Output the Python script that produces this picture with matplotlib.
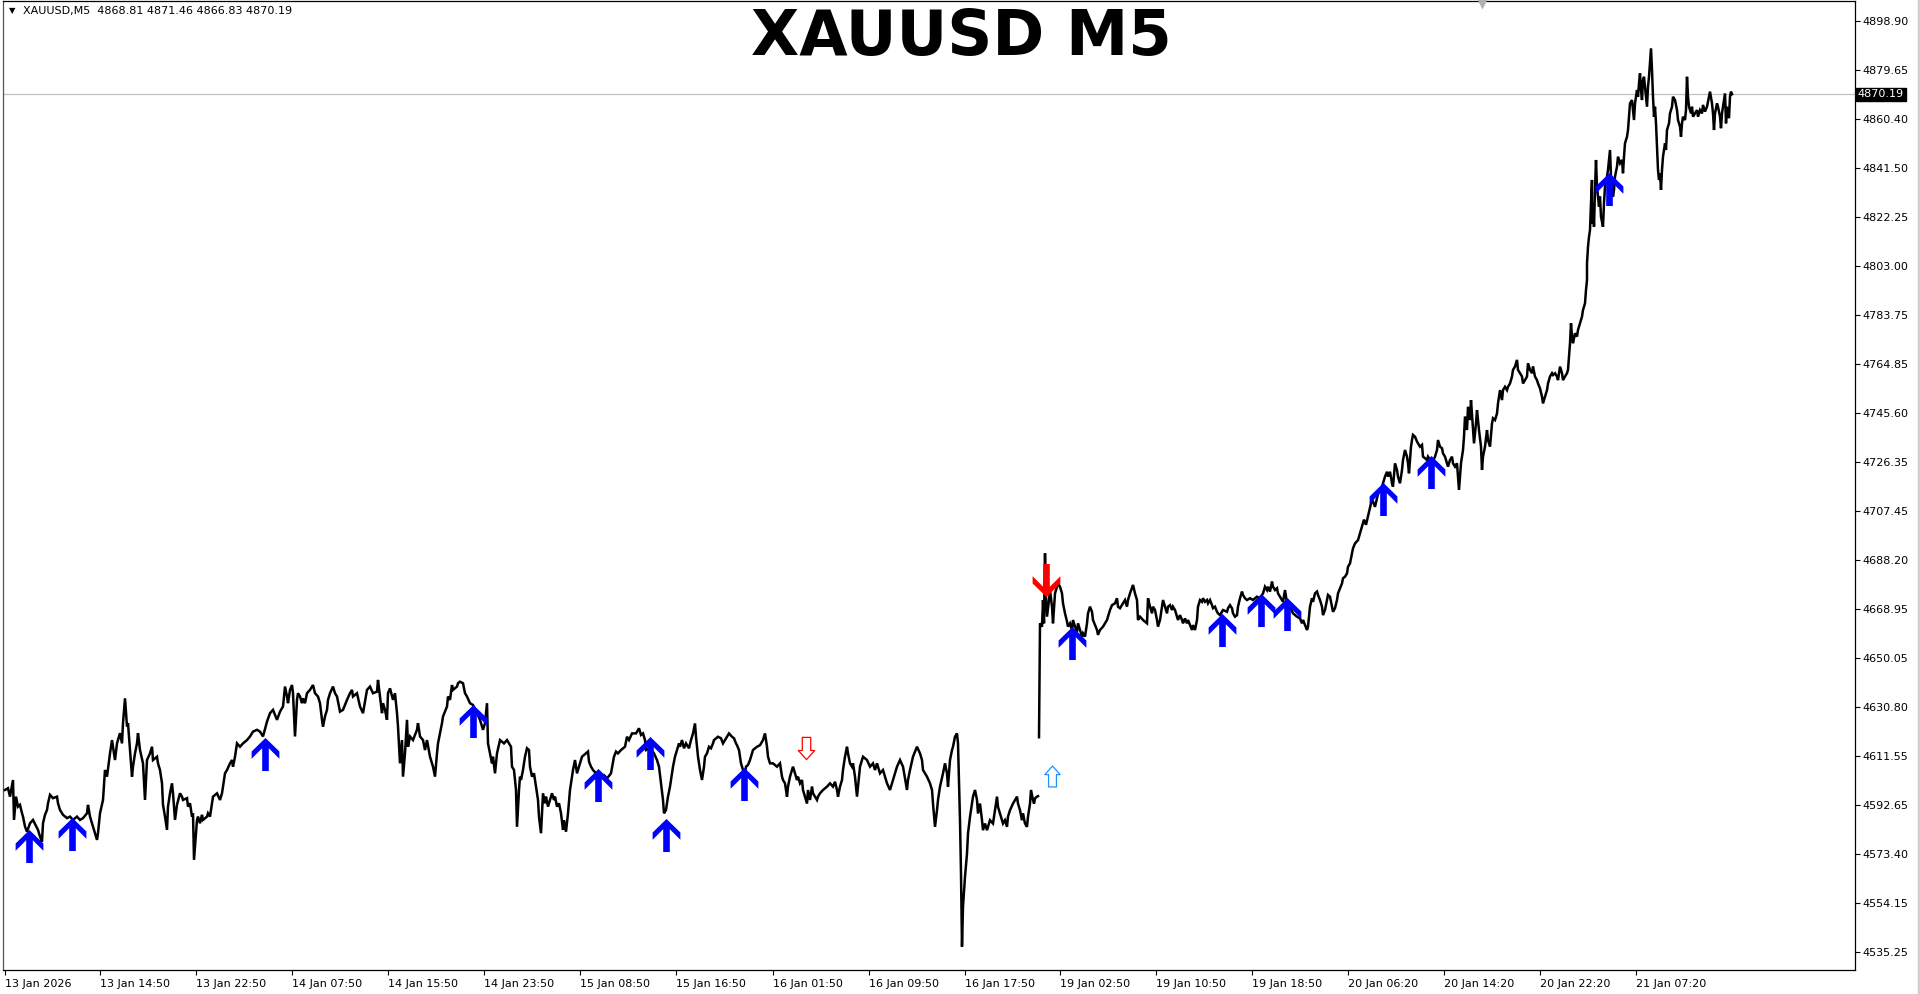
import numpy as np
import matplotlib
matplotlib.use('Agg')
import matplotlib.pyplot as plt
from matplotlib.path import Path
from matplotlib.lines import Line2D

# (bar, price) pairs, one bar per pixel
tue_13jan = [
    (5, 4598.4), (8, 4599.1), (10, 4595.8), (13, 4602.3), (14, 4586.7), (16, 4595.8), (18, 4591.9),
    (20, 4592.6), (22, 4589.3), (23, 4588.0), (25, 4584.1), (27, 4582.1), (30, 4585.4), (33, 4586.7),
    (38, 4582.8), (40, 4580.2), (42, 4578.2), (43, 4585.4), (45, 4588.7), (47, 4590.6), (48, 4593.2),
    (50, 4596.5), (53, 4595.2), (57, 4595.8), (58, 4593.2), (60, 4590.6), (63, 4588.7), (67, 4587.4),
    (70, 4588.0), (73, 4586.7), (77, 4588.0), (80, 4586.7), (83, 4587.4), (87, 4589.3), (88, 4592.6),
    (90, 4588.0), (93, 4584.1), (97, 4578.9), (98, 4581.5), (100, 4589.3), (103, 4594.5), (105, 4606.2),
    (107, 4603.6), (110, 4612.7), (112, 4617.9), (113, 4615.3), (115, 4610.1), (117, 4616.6), (120, 4620.6),
    (122, 4616.6), (123, 4624.5), (125, 4634.2), (127, 4623.2), (128, 4624.5), (130, 4614.0), (132, 4603.6),
    (133, 4607.5), (135, 4612.7), (137, 4616.6), (138, 4620.6), (140, 4614.0), (143, 4608.8), (145, 4594.5),
    (147, 4610.1), (150, 4612.7), (152, 4615.3), (153, 4610.1), (157, 4611.4), (158, 4608.8), (160, 4606.2),
    (162, 4601.0), (163, 4592.6), (165, 4588.0), (167, 4582.8), (168, 4591.9), (170, 4597.1), (172, 4601.0),
    (173, 4597.1), (175, 4586.7), (177, 4592.6), (180, 4597.1), (182, 4595.8), (183, 4594.5), (187, 4595.2),
    (188, 4591.9), (190, 4593.2), (192, 4588.0), (193, 4589.3), (194, 4571.1), (197, 4586.7), (198, 4588.0),
    (200, 4585.4), (202, 4588.7), (203, 4586.7), (207, 4588.0), (208, 4589.3), (210, 4588.0),
]
wed_14jan = [
    (212, 4593.2), (213, 4595.8), (217, 4597.1), (220, 4594.5), (222, 4597.1), (223, 4599.7), (225, 4604.9),
    (227, 4606.2), (230, 4608.8), (232, 4610.1), (233, 4607.5), (235, 4611.4), (237, 4616.6), (240, 4615.3),
    (243, 4616.6), (247, 4617.9), (250, 4619.3), (253, 4621.2), (257, 4621.9), (260, 4621.2), (263, 4619.3),
    (267, 4625.1), (270, 4628.4), (273, 4629.7), (277, 4625.8), (280, 4629.0), (283, 4631.0), (285, 4638.8),
    (287, 4634.9), (288, 4632.3), (290, 4637.5), (292, 4639.4), (293, 4636.2), (295, 4619.3), (297, 4633.6),
    (298, 4636.2), (300, 4634.9), (302, 4632.3), (303, 4634.2), (305, 4632.3), (307, 4636.2), (310, 4637.5),
    (313, 4639.4), (315, 4636.2), (318, 4634.9), (320, 4632.3), (322, 4625.8), (323, 4623.2), (325, 4627.1),
    (327, 4629.7), (328, 4633.6), (330, 4636.2), (333, 4638.8), (335, 4636.2), (337, 4634.9), (340, 4629.0),
    (343, 4629.7), (347, 4633.6), (350, 4636.2), (352, 4637.5), (353, 4634.9), (357, 4636.2), (360, 4631.0),
    (363, 4628.4), (367, 4637.5), (370, 4638.8), (373, 4636.2), (377, 4636.8), (378, 4641.4), (380, 4634.9),
    (382, 4628.4), (383, 4632.3), (385, 4629.7), (387, 4625.8), (388, 4636.2), (390, 4638.1), (393, 4633.6),
    (395, 4636.2), (397, 4628.4), (398, 4623.2), (400, 4608.8), (402, 4617.9), (403, 4603.6), (405, 4612.7),
    (407, 4625.8), (408, 4615.3), (410, 4619.3), (413, 4617.9), (417, 4621.9), (418, 4624.5), (420, 4619.3),
    (423, 4617.9), (425, 4614.0), (427, 4617.9), (430, 4611.4), (433, 4607.5), (435, 4603.6), (437, 4612.7),
    (438, 4616.6), (440, 4620.6), (442, 4624.5), (443, 4627.1), (447, 4631.0), (448, 4634.9), (450, 4633.6),
    (452, 4639.4), (453, 4637.5), (457, 4638.8), (458, 4640.1), (460, 4640.7), (463, 4640.1), (465, 4636.2),
    (467, 4634.9), (470, 4632.3), (473, 4631.6), (477, 4628.4), (480, 4625.8), (483, 4621.9), (485, 4624.5),
    (487, 4632.3), (488, 4616.6), (490, 4612.7), (492, 4608.8), (493, 4611.4), (495, 4604.9), (497, 4612.7),
]
thu_15jan = [
    (500, 4617.9), (504, 4616.6), (507, 4617.9), (511, 4615.3), (512, 4607.5), (514, 4606.2), (516, 4598.4),
    (517, 4584.0), (519, 4598.4), (520, 4603.6), (521, 4602.3), (523, 4606.2), (525, 4611.4), (527, 4614.7),
    (529, 4614.0), (530, 4607.5), (532, 4603.6), (534, 4604.9), (536, 4599.7), (538, 4594.5), (539, 4587.9),
    (541, 4581.5), (543, 4597.1), (545, 4593.2), (546, 4595.8), (548, 4591.9), (550, 4594.5), (552, 4597.1),
    (554, 4594.5), (555, 4595.8), (557, 4591.9), (559, 4593.2), (561, 4589.3), (563, 4582.8), (564, 4586.6),
    (566, 4582.1), (568, 4589.3), (570, 4598.4), (571, 4601.0), (573, 4606.2), (575, 4610.1), (577, 4604.9),
    (579, 4607.5), (580, 4608.8), (582, 4611.4), (586, 4612.7), (588, 4613.4), (589, 4609.5), (591, 4607.5),
    (593, 4606.2), (596, 4604.9), (600, 4603.6), (604, 4604.2), (607, 4602.9), (611, 4604.9), (614, 4611.4),
    (616, 4613.4), (618, 4612.7), (621, 4614.0), (625, 4615.3), (627, 4619.2), (629, 4617.9), (632, 4620.5),
    (636, 4620.5), (639, 4622.5), (641, 4619.9), (643, 4620.5), (645, 4617.9), (646, 4614.0), (650, 4614.7),
    (654, 4612.7), (657, 4610.1), (659, 4607.5), (661, 4601.0), (663, 4594.5), (664, 4589.3), (666, 4590.6),
    (668, 4595.8), (670, 4599.7), (671, 4602.3), (673, 4607.5), (675, 4611.4), (677, 4614.0), (679, 4616.6),
    (680, 4615.3), (682, 4617.9), (684, 4614.7), (686, 4616.6), (689, 4614.7), (691, 4617.9), (693, 4620.5),
    (695, 4624.4), (696, 4619.2), (698, 4611.4), (700, 4606.2), (702, 4602.3), (704, 4607.5), (705, 4611.4),
    (707, 4612.7), (709, 4615.3), (711, 4614.7), (713, 4616.6), (714, 4617.9), (718, 4619.2), (721, 4618.6),
    (723, 4616.6), (725, 4617.9), (729, 4620.5), (732, 4619.2), (734, 4618.6), (736, 4616.6), (737, 4615.9),
    (739, 4614.0), (741, 4608.8), (743, 4606.2), (745, 4604.9), (746, 4607.5), (748, 4608.2), (750, 4610.1),
]
fri_16jan = [
    (753, 4614.0), (757, 4615.3), (760, 4615.9), (763, 4617.9), (765, 4620.5), (767, 4615.3), (768, 4611.4),
    (770, 4608.8), (773, 4608.8), (777, 4607.5), (780, 4608.8), (782, 4603.6), (783, 4602.3), (785, 4601.0),
    (787, 4595.8), (788, 4599.7), (790, 4603.6), (793, 4607.5), (795, 4604.9), (797, 4602.3), (798, 4603.6),
    (800, 4601.0), (802, 4602.3), (803, 4598.4), (805, 4595.8), (807, 4593.1), (808, 4598.4), (810, 4594.5),
    (812, 4599.7), (813, 4597.1), (817, 4594.5), (818, 4595.8), (820, 4597.1), (823, 4598.4), (827, 4599.7),
    (830, 4601.0), (833, 4599.7), (835, 4601.6), (837, 4598.4), (838, 4595.8), (840, 4599.7), (842, 4602.3),
    (843, 4606.2), (845, 4611.4), (847, 4615.3), (848, 4612.7), (850, 4608.8), (852, 4607.5), (853, 4608.8),
    (855, 4603.6), (857, 4595.8), (858, 4599.7), (860, 4607.5), (863, 4611.4), (867, 4610.1), (870, 4607.5),
    (873, 4608.8), (875, 4606.2), (877, 4608.8), (880, 4604.9), (883, 4606.2), (887, 4601.0), (890, 4598.4),
    (893, 4602.3), (897, 4607.5), (900, 4610.1), (903, 4607.5), (907, 4598.4), (908, 4602.3), (910, 4606.2),
    (913, 4611.4), (917, 4615.3), (920, 4612.7), (922, 4610.1), (923, 4606.2), (927, 4603.6), (930, 4601.0),
    (932, 4598.4), (933, 4593.1), (935, 4584.0), (937, 4590.5), (938, 4594.5), (940, 4599.7), (943, 4604.9),
    (945, 4608.8), (947, 4604.9), (948, 4599.7), (950, 4610.1), (952, 4614.0), (953, 4615.3), (955, 4619.2),
    (957, 4620.5), (958, 4616.6), (959, 4602.3), (960, 4586.6), (961, 4565.8), (962, 4537.2), (963, 4552.8),
    (965, 4564.5), (967, 4573.6), (968, 4581.4), (970, 4587.9), (972, 4593.1), (973, 4595.8), (975, 4598.4),
    (977, 4594.5), (978, 4589.2), (980, 4593.1), (982, 4586.6), (983, 4582.7), (985, 4585.3), (987, 4582.7),
    (990, 4586.6), (993, 4585.3), (997, 4595.8), (998, 4591.8), (1000, 4589.2), (1002, 4586.6), (1003, 4585.3),
    (1005, 4586.6), (1007, 4584.0), (1008, 4588.0), (1010, 4590.5), (1013, 4593.1), (1017, 4595.8),
    (1018, 4593.1), (1020, 4590.5), (1022, 4586.6), (1023, 4589.2), (1025, 4585.3), (1027, 4584.0),
    (1028, 4588.0), (1030, 4593.1), (1031, 4598.4), (1033, 4594.5), (1034, 4593.1), (1035, 4595.1),
    (1037, 4595.8), (1038, 4596.0),
]
mon_19jan = [
    (1039, 4619.0), (1040, 4663.5), (1042, 4662.2), (1043, 4672.6), (1044, 4663.5), (1045, 4690.8),
    (1046, 4673.9), (1047, 4666.1), (1049, 4672.6), (1050, 4676.5), (1052, 4670.0), (1053, 4663.5),
    (1055, 4675.2), (1057, 4677.8), (1058, 4679.1), (1060, 4677.8), (1062, 4675.2), (1063, 4671.3),
    (1065, 4667.4), (1067, 4664.2), (1068, 4662.2), (1070, 4663.5), (1072, 4660.9), (1073, 4664.8),
    (1075, 4662.2), (1077, 4660.2), (1078, 4663.5), (1080, 4660.9), (1082, 4658.3), (1083, 4659.6),
    (1085, 4658.3), (1087, 4663.5), (1088, 4667.4), (1090, 4670.0), (1092, 4668.0), (1093, 4664.8),
    (1097, 4660.9), (1098, 4659.0), (1100, 4660.9), (1103, 4662.2), (1107, 4664.8), (1108, 4666.1),
    (1110, 4668.7), (1112, 4670.6), (1115, 4671.3), (1117, 4673.3), (1118, 4670.0), (1120, 4669.4),
    (1123, 4671.3), (1125, 4672.6), (1127, 4670.0), (1128, 4672.6), (1130, 4675.2), (1133, 4678.5),
    (1135, 4675.2), (1137, 4672.6), (1138, 4664.8), (1140, 4666.1), (1143, 4664.8), (1147, 4663.5),
    (1148, 4673.3), (1150, 4670.0), (1152, 4667.4), (1153, 4670.0), (1155, 4668.7), (1157, 4664.8),
    (1158, 4662.2), (1160, 4664.8), (1162, 4670.0), (1163, 4672.6), (1165, 4670.0), (1167, 4667.4),
    (1168, 4670.0), (1170, 4670.6), (1172, 4668.7), (1173, 4670.0), (1175, 4668.7), (1177, 4666.1),
    (1178, 4664.8), (1180, 4666.7), (1182, 4664.8), (1183, 4663.5), (1185, 4665.4), (1187, 4663.5),
    (1188, 4664.8), (1190, 4662.8), (1192, 4660.9), (1193, 4662.8), (1195, 4660.9), (1197, 4664.8),
    (1198, 4670.0), (1200, 4672.6), (1202, 4671.9), (1203, 4673.3), (1205, 4671.9), (1207, 4672.6),
    (1208, 4671.3), (1210, 4672.6), (1212, 4670.6), (1213, 4669.4), (1215, 4670.0), (1217, 4668.0),
    (1218, 4667.4), (1220, 4666.7), (1222, 4668.0), (1223, 4668.7), (1227, 4668.0), (1228, 4669.4),
    (1230, 4670.6), (1232, 4669.4), (1233, 4667.4), (1235, 4666.1), (1237, 4666.7), (1238, 4670.0),
    (1240, 4673.3), (1242, 4675.9), (1243, 4674.6), (1245, 4673.3), (1247, 4672.6), (1250, 4673.3),
    (1253, 4672.6), (1257, 4673.9), (1260, 4673.3), (1263, 4675.2), (1265, 4677.8), (1267, 4676.5),
    (1268, 4677.8), (1270, 4675.9), (1272, 4679.8), (1273, 4677.8), (1275, 4676.5), (1277, 4677.2),
    (1278, 4675.2), (1280, 4673.9), (1282, 4672.6), (1283, 4671.9), (1285, 4676.5), (1287, 4671.3),
    (1290, 4670.0), (1293, 4667.4), (1297, 4666.1), (1300, 4665.4), (1302, 4663.5), (1303, 4664.8),
    (1305, 4662.8), (1307, 4660.9), (1308, 4662.2), (1310, 4670.0), (1312, 4673.3), (1313, 4671.9),
    (1315, 4675.2), (1317, 4675.9), (1318, 4674.6), (1320, 4672.6), (1322, 4670.0), (1323, 4666.7),
    (1325, 4668.7), (1327, 4672.6), (1328, 4674.6), (1330, 4673.9), (1332, 4670.0), (1333, 4668.0),
    (1335, 4669.4), (1337, 4672.6), (1338, 4675.2), (1340, 4677.2), (1342, 4679.1), (1343, 4681.1),
    (1345, 4681.7), (1347, 4683.0), (1348, 4685.6), (1350, 4686.9), (1352, 4690.8), (1353, 4692.8),
    (1355, 4694.7), (1358, 4696.0),
]
tue_20jan = [
    (1361, 4700.0), (1364, 4704.0), (1366, 4702.0), (1369, 4707.0), (1372, 4712.0), (1375, 4709.0),
    (1378, 4714.0), (1380, 4715.6), (1382, 4716.9), (1385, 4720.8), (1387, 4722.7), (1388, 4720.8),
    (1390, 4722.7), (1392, 4718.2), (1393, 4716.9), (1395, 4726.0), (1397, 4723.4), (1398, 4720.8),
    (1400, 4718.2), (1402, 4723.4), (1403, 4727.3), (1405, 4731.2), (1407, 4728.6), (1408, 4726.0),
    (1409, 4722.1), (1411, 4732.5), (1412, 4735.1), (1413, 4737.1), (1415, 4736.4), (1417, 4734.5),
    (1418, 4733.8), (1420, 4732.5), (1422, 4733.2), (1423, 4728.6), (1425, 4728.0), (1427, 4727.3),
    (1428, 4728.6), (1432, 4726.0), (1435, 4728.6), (1437, 4731.2), (1438, 4735.1), (1440, 4732.5),
    (1442, 4731.9), (1443, 4729.9), (1445, 4728.6), (1447, 4726.0), (1448, 4724.7), (1450, 4727.3),
    (1452, 4728.6), (1453, 4726.0), (1455, 4724.7), (1457, 4726.0), (1458, 4720.8), (1459, 4715.6),
    (1461, 4726.0), (1463, 4731.2), (1464, 4736.4), (1465, 4744.3), (1467, 4739.0), (1468, 4748.1),
    (1470, 4742.9), (1471, 4750.7), (1473, 4739.0), (1474, 4733.8), (1476, 4741.6), (1477, 4746.8),
    (1479, 4739.0), (1481, 4732.5), (1482, 4723.4), (1483, 4728.6), (1485, 4732.5), (1487, 4739.0),
    (1488, 4735.1), (1490, 4732.5), (1492, 4741.6), (1493, 4743.6), (1495, 4742.9), (1497, 4745.5),
    (1498, 4749.4), (1500, 4754.6), (1502, 4750.7), (1503, 4754.6), (1505, 4755.9), (1507, 4754.6),
    (1508, 4755.9), (1510, 4757.2), (1512, 4759.9), (1513, 4762.5), (1515, 4763.8), (1517, 4766.4),
    (1518, 4762.5), (1520, 4761.2), (1522, 4759.9), (1523, 4757.2), (1525, 4758.5), (1527, 4759.9),
    (1528, 4765.1), (1530, 4762.5), (1532, 4761.2), (1533, 4763.8), (1535, 4759.9), (1537, 4758.5),
    (1538, 4757.2), (1540, 4755.3), (1542, 4752.0), (1543, 4749.4), (1545, 4752.0), (1547, 4754.6),
    (1548, 4757.2), (1550, 4759.9), (1552, 4761.2), (1553, 4760.5), (1555, 4761.2), (1557, 4759.9),
    (1558, 4758.5), (1560, 4763.8), (1562, 4761.2), (1563, 4758.5), (1565, 4759.9), (1567, 4761.2),
    (1568, 4762.5), (1569, 4767.7), (1570, 4772.9), (1571, 4780.7), (1572, 4775.5), (1573, 4772.9),
    (1575, 4776.8), (1577, 4775.5), (1578, 4778.1), (1580, 4780.7), (1582, 4783.3), (1583, 4785.9),
    (1585, 4788.5), (1586, 4793.7), (1587, 4797.6), (1587, 4804.1), (1588, 4810.6), (1589, 4814.5),
    (1590, 4817.1), (1591, 4827.6), (1592, 4836.7), (1592, 4819.7), (1593, 4827.6), (1594, 4818.4),
    (1595, 4832.8), (1596, 4844.5), (1597, 4834.1), (1599, 4826.3), (1600, 4830.2), (1601, 4822.3),
    (1603, 4818.4), (1604, 4827.6), (1605, 4834.1), (1607, 4838.0), (1608, 4840.6), (1610, 4848.4),
    (1611, 4838.0), (1613, 4830.2), (1614, 4832.8), (1615, 4838.0), (1617, 4841.9), (1618, 4845.8),
    (1620, 4843.2), (1622, 4844.5), (1623, 4839.3), (1624, 4845.8), (1625, 4851.0), (1627, 4853.6),
    (1628, 4856.2), (1629, 4861.4),
]
wed_21jan = [
    (1630, 4866.6), (1632, 4867.9), (1633, 4864.0), (1634, 4860.1), (1635, 4866.6), (1637, 4871.8),
    (1638, 4869.2), (1639, 4874.4), (1640, 4878.3), (1641, 4871.8), (1642, 4867.9), (1643, 4875.7),
    (1644, 4877.0), (1645, 4873.1), (1646, 4869.2), (1647, 4865.3), (1648, 4873.1), (1649, 4877.0),
    (1650, 4882.3), (1651, 4888.1), (1652, 4879.6), (1653, 4869.2), (1654, 4861.4), (1655, 4865.3),
    (1656, 4858.8), (1657, 4849.7), (1658, 4840.6), (1659, 4836.7), (1660, 4839.3), (1661, 4832.8),
    (1662, 4840.6), (1663, 4845.8), (1665, 4851.0), (1666, 4848.4), (1667, 4856.2), (1669, 4858.8),
    (1670, 4862.7), (1672, 4865.3), (1673, 4869.2), (1675, 4867.9), (1677, 4864.0), (1678, 4860.1),
    (1680, 4857.5), (1681, 4853.6), (1682, 4858.8), (1683, 4861.4), (1685, 4860.1), (1686, 4864.0),
    (1687, 4877.0), (1688, 4869.2), (1689, 4865.3), (1691, 4862.7), (1692, 4865.3), (1693, 4861.4),
    (1695, 4862.7), (1697, 4864.0), (1698, 4861.4), (1700, 4864.0), (1702, 4862.7), (1703, 4866.0),
    (1705, 4863.4), (1707, 4865.3), (1708, 4867.3), (1710, 4871.2), (1712, 4866.6), (1713, 4862.7),
    (1714, 4856.2), (1715, 4862.7), (1717, 4866.6), (1718, 4865.3), (1720, 4861.4), (1721, 4856.9),
    (1722, 4862.7), (1723, 4865.3), (1725, 4870.5), (1726, 4858.8), (1727, 4865.3), (1729, 4860.8),
    (1730, 4869.2), (1731, 4871.2), (1732, 4870.19),
]

# signal arrows (bar, price level)
buy_bars = [29, 72, 265, 473, 598, 650, 666, 744, 1072, 1222, 1261, 1287, 1383, 1431, 1609]
buy_levels = [4576.5, 4581.2, 4612.4, 4625.3, 4600.3, 4612.8, 4580.8, 4600.8,
              4656.0, 4660.7, 4668.9, 4667.0, 4712.1, 4722.6, 4833.2]
sell_bars = [1046]
sell_levels = [4680.5]
hollow_sell_bars = [806]
hollow_sell_levels = [4614.7]
hollow_buy_bars = [1052]
hollow_buy_levels = [4603.9]

last_price = 4870.19
ohlc_text = 'XAUUSD,M5  4868.81 4871.46 4866.83 4870.19'

ytick_vals = [4898.90, 4879.65, 4860.40, 4841.50, 4822.25, 4803.00, 4783.75, 4764.85, 4745.60, 4726.35,
              4707.45, 4688.20, 4668.95, 4650.05, 4630.80, 4611.55, 4592.65, 4573.40, 4554.15, 4535.25]
xtick_bars = [5, 100, 196, 292, 388, 484, 580, 676, 773, 869, 965, 1060, 1156, 1252, 1348, 1444, 1540, 1636]
xtick_labels = ['13 Jan 2026', '13 Jan 14:50', '13 Jan 22:50', '14 Jan 07:50', '14 Jan 15:50',
                '14 Jan 23:50', '15 Jan 08:50', '15 Jan 16:50', '16 Jan 01:50', '16 Jan 09:50',
                '16 Jan 17:50', '19 Jan 02:50', '19 Jan 10:50', '19 Jan 18:50', '20 Jan 06:20',
                '20 Jan 14:20', '20 Jan 22:20', '21 Jan 07:20']


def thick_arrow(down=False):
    v = [(0, 0.5), (0.42, 0.09), (0.42, -0.13), (0.1, 0.19), (0.1, -0.5), (-0.1, -0.5),
         (-0.1, 0.19), (-0.42, -0.13), (-0.42, 0.09), (0, 0.5)]
    if down:
        v = [(x, -y) for x, y in v]
    return Path(v, closed=True)


def hollow_arrow(down=False):
    v = [(-0.19, 0.5), (0.19, 0.5), (0.19, -0.09), (0.37, -0.09), (0, -0.5),
         (-0.37, -0.09), (-0.19, -0.09), (-0.19, 0.5)]
    if not down:
        v = [(x, -y) for x, y in v]
    return Path(v, closed=True)


W, H = 1919, 994
fig = plt.figure(figsize=(W / 100, H / 100), dpi=100)
ax = fig.add_axes([3 / W, (H - 970) / H, (1855 - 3) / W, (970 - 1) / H])

px_per_unit = 2.56
y_top = 4898.90 + (20.7 - 1) / px_per_unit
y_bot = 4898.90 - (970 - 20.7) / px_per_unit

weekdays = tue_13jan + wed_14jan + thu_15jan + fri_16jan
weekend = mon_19jan + tue_20jan + wed_21jan
xs = [b for b, _ in weekdays] + [np.nan] + [b for b, _ in weekend]
ys = [p for _, p in weekdays] + [np.nan] + [p for _, p in weekend]
ax.plot(xs, ys, color='black', lw=1.8, solid_joinstyle='miter', zorder=3)

ax.axhline(last_price, color='#C0C0C0', lw=0.9, zorder=1)

ax.plot(buy_bars, buy_levels, ls='none', marker=thick_arrow(), markersize=23.8,
        color='#0000FF', mec='none', zorder=5)
ax.plot(sell_bars, sell_levels, ls='none', marker=thick_arrow(down=True), markersize=23.8,
        color='#FF0000', mec='none', zorder=5)
ax.plot(hollow_sell_bars, hollow_sell_levels, ls='none', marker=hollow_arrow(down=True), markersize=16,
        mfc='white', mec='#FF0000', mew=0.9, zorder=5)
ax.plot(hollow_buy_bars, hollow_buy_levels, ls='none', marker=hollow_arrow(), markersize=15,
        mfc='white', mec='#1E90FF', mew=0.9, zorder=5)

ax.set_xlim(3, 1855)
ax.set_ylim(y_bot, y_top)

ax.yaxis.tick_right()
ax.set_yticks(ytick_vals)
ax.set_yticklabels(['%.2f' % v for v in ytick_vals])
ax.set_xticks(xtick_bars)
ax.set_xticklabels(xtick_labels)
for lbl in ax.get_xticklabels():
    lbl.set_horizontalalignment('left')
ax.tick_params(axis='both', labelsize=8, length=3.5, width=0.8, color='black', pad=2)
ax.tick_params(axis='x', pad=3)
for s in ax.spines.values():
    s.set_linewidth(0.9)
    s.set_color('black')
ax.spines['left'].set_color('#555555')

ax.text(1.0015, last_price, '%.2f' % last_price, transform=ax.get_yaxis_transform(),
        ha='left', va='center', fontsize=8, color='white', zorder=10, clip_on=False,
        bbox=dict(boxstyle='square,pad=0.15', facecolor='black', edgecolor='black'))

# shift marker on the top edge
ax.plot([1482], [0.997], transform=ax.get_xaxis_transform(), marker='v', markersize=7,
        color='#B0B0B0', mec='none', clip_on=False, zorder=6)

fig.text(961 / W, 1 - 38 / H, 'XAUUSD M5', ha='center', va='center', fontsize=45,
         fontweight='bold', color='black')
fig.text(9 / W, 1 - 11 / H, '\u25bc', ha='left', va='center', fontsize=6, color='black')
fig.text(23 / W, 1 - 11 / H, ohlc_text, ha='left', va='center', fontsize=8, color='black')

fig.add_artist(Line2D([1917.5 / W, 1917.5 / W], [0, 1], color='#C8C8C8', lw=1))

fig.savefig('out.png', dpi=100)
